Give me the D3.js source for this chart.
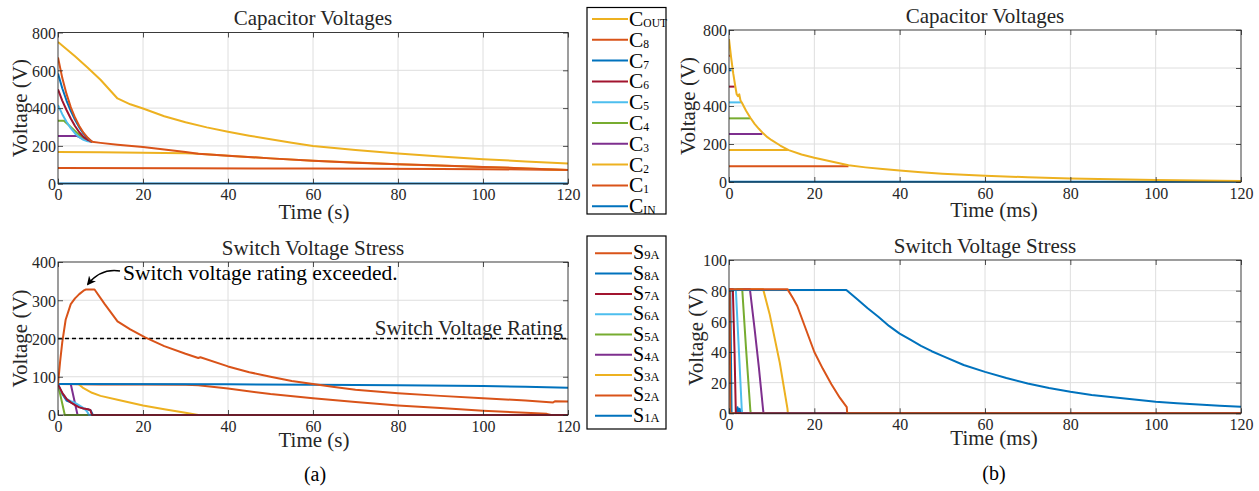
<!DOCTYPE html>
<html><head><meta charset="utf-8">
<script src="https://cdn.jsdelivr.net/npm/d3@7"></script>
<style>
body{margin:0;background:#fff}
svg{display:block}
text{font-family:"Liberation Serif","Times New Roman",serif}
</style>
</head><body>
<svg id="chart" width="1259" height="491"></svg>
<script>
// ---------- tick labels ----------
const timeTicks = [0, 20, 40, 60, 80, 100, 120];
const capTicks = [0, 200, 400, 600, 800];
const swTicksA = [0, 100, 200, 300, 400];
const swTicksB = [0, 20, 40, 60, 80, 100];
const switchRating = 200;

// ---------- (a) Capacitor voltages, time in s ----------
const capA_CIN = [[0,1],[120,1]];
const capA_C1 = [[0,83],[30,82],[60,80],[90,78],[100,77],[110,75],[120,72]];
const capA_C2 = [[0,168],[10,166],[20,164],[30,161],[33,158],[40,148],[50,134],[60,121],[80,103],[100,89],[120,73]];
const capA_C3 = [[0,252],[4.5,252],[6,236],[7.5,225],[8,222]];
const capA_C4 = [[0,333],[1.4,333],[3,300],[5,258],[7,230],[8,222]];
const capA_C5 = [[0,416],[1,368],[2,328],[3,294],[4,266],[5,246],[6,232],[7,224],[8,222]];
const capA_C6 = [[0,499],[1,440],[2,390],[3,345],[4,305],[5,272],[6,248],[7,232],[8,222]];
const capA_C7 = [[0,583],[1,505],[2,440],[3,385],[4,338],[5,298],[6,265],[7,240],[8,222]];
const capA_C8 = [[0,668],[1,560],[2,475],[3,405],[4,350],[5,305],[6,270],[7,243],[8,222],[10,216],[14,206],[20,194],[25,181],[30,168],[33,158],[40,148],[50,134],[60,121],[70,111],[80,103],[90,96],[100,89],[110,81],[115,76],[120,73]];
const capA_COUT = [[0,750],[4,674],[7,614],[10,550],[14,451],[17,420],[20,398],[25,357],[30,325],[35,298],[40,275],[45,254],[50,235],[55,217],[60,200],[70,178],[80,160],[90,144],[100,130],[110,118],[120,107]];

// ---------- (a) Switch voltage stress, time in s ----------
const swA_S1 = [[0,80],[1,55],[2,38],[3,33],[4,28],[5,22],[6,17],[7,15],[7.7,12],[8.2,0],[120,0]];
const swA_S2 = [[0,81],[10,80],[20,80],[30,79],[33,78],[40,69],[50,55],[60,44],[70,34],[80,25],[90,18],[100,11],[110,6],[115,3],[116,0],[120,0]];
const swA_S3 = [[0,81],[4.8,81],[6,70],[8,58],[10,50],[14,40],[20,25],[25,15],[30,6],[33,0],[120,0]];
const swA_S4 = [[0,81],[3,81],[4.6,0],[120,0]];
const swA_S5 = [[0,80],[1.6,0],[120,0]];
const swA_S6 = [[0,80],[1,57],[2,42],[3,36],[4,32],[5,25],[6,18],[6.8,10],[7.3,0],[120,0]];
const swA_S7 = [[0,80],[1,58],[2,42],[3,33],[4,26],[5,20],[6,17],[7,15],[7.6,13],[8,0],[120,0]];
const swA_S8 = [[0,81],[40,80.5],[60,79],[80,77.5],[100,75.5],[110,74],[120,71]];
const swA_S9 = [[0,80],[0.5,140],[1,190],[1.8,249],[3,290],[4,305],[5,316],[6,325],[6.5,328],[8.6,328],[11,290],[14,245],[17,224],[20.5,203],[25,180],[30,160],[33,149],[33.5,151],[40,127],[45,112],[50,100],[55,89],[60,81],[65,73],[70,66],[80,57],[90,50],[100,44],[110,38],[116.5,33],[117,36],[120,35]];

// ---------- (b) Capacitor voltages, time in ms ----------
const capB_CIN = [[0,1],[120,1]];
const capB_C1 = [[0,83],[28,83]];
const capB_C2 = [[0,168],[13.8,168]];
const capB_C3 = [[0,252],[7.8,252]];
const capB_C4 = [[0,335],[5,335]];
const capB_C5 = [[0,419],[3,419]];
const capB_C6 = [[0,502],[1.3,502]];
const capB_C7 = [[0,588],[0.6,588]];
const capB_C8 = [[0,665],[0.3,665]];
const capB_COUT = [[0,752],[0.5,655],[1,570],[1.5,500],[1.8,462],[2.1,452],[2.4,462],[2.7,428],[3,418],[4,375],[5,338],[6,306],[7,280],[8,256],[9,236],[10,220],[12,192],[14,168],[17,145],[20,128],[24,108],[28,88],[32,77],[36,68],[40,60],[45,51],[50,44],[55,38],[60,33],[70,25],[80,19],[90,15],[100,11],[110,8],[120,5]];

// ---------- (b) Switch voltage stress, time in ms ----------
const swB_S1 = [[0,81],[0.3,81],[0.6,0],[1.7,0],[2,4],[2.3,0],[2.5,3],[2.8,0],[120,0]];
const swB_S2 = [[0,81],[0.15,81],[0.3,0],[120,0]];
const swB_S3 = [[0,81],[8,81],[9.5,65],[11.9,33],[13.7,3],[13.8,0],[120,0]];
const swB_S4 = [[0,81],[4.9,81],[6,55],[7,30],[8,2],[8.1,0],[120,0]];
const swB_S5 = [[0,81],[3.1,81],[4,42],[5,2],[5.1,0],[120,0]];
const swB_S6 = [[0,81],[1.6,81],[2.3,42],[3,2],[3.1,0],[120,0]];
const swB_S7 = [[0,81],[0.9,81],[1.3,40],[1.6,0],[120,0]];
const swB_S8 = [[0,80.5],[27.5,80.5],[30,74.5],[32.5,68.5],[35,63],[37.5,57],[40,52],[42.5,48],[45,44],[47.5,40.5],[50,37.5],[55,31.5],[60,27],[65,23],[70,19.5],[75,16.5],[80,14],[85,12],[90,10.5],[95,9],[100,7.6],[105,6.6],[110,5.7],[115,5],[120,4.3]];
const swB_S9 = [[0,81],[13.7,81],[15,75],[16,70],[18,55],[20,40],[22,29],[24,19],[26,10],[27.6,4],[27.7,0],[120,0]];

// ---------- legend labels ----------
const capLegendMain = ["C","C","C","C","C","C","C","C","C","C"];
const capLegendSub = ["OUT","8","7","6","5","4","3","2","1","IN"];
const swLegendMain = ["S","S","S","S","S","S","S","S","S"];
const swLegendSub = ["9A","8A","7A","6A","5A","4A","3A","2A","1A"];

// ---------- styles ----------
const C_BLUE="#0072BD", C_ORANGE="#D95319", C_YELLOW="#EDB120", C_PURPLE="#7E2F8E",
      C_GREEN="#77AC30", C_CYAN="#4DBEEE", C_DRED="#A2142F";
const capColors = [C_BLUE,C_ORANGE,C_YELLOW,C_PURPLE,C_GREEN,C_CYAN,C_DRED,C_BLUE,C_ORANGE,C_YELLOW]; // CIN..COUT
const swColors = [C_BLUE,C_ORANGE,C_YELLOW,C_PURPLE,C_GREEN,C_CYAN,C_DRED,C_BLUE,C_ORANGE]; // S1A..S9A
const AX="#262626", GRID="#dedede";

const svg = d3.select("#chart");
const defs = svg.append("defs");
let clipId = 0;

function panel(p){
  const x = d3.scaleLinear().domain([0,120]).range([p.l,p.r]);
  const y = d3.scaleLinear().domain([0,p.ymax]).range([p.b,p.t]);
  const g = svg.append("g");
  // grid
  g.selectAll(null).data(timeTicks.slice(1,-1)).enter().append("line")
    .attr("x1",d=>x(d)).attr("x2",d=>x(d)).attr("y1",p.t).attr("y2",p.b)
    .attr("stroke",GRID).attr("stroke-width",1);
  g.selectAll(null).data(p.yt.slice(1,-1)).enter().append("line")
    .attr("y1",d=>y(d)).attr("y2",d=>y(d)).attr("x1",p.l).attr("x2",p.r)
    .attr("stroke",GRID).attr("stroke-width",1);
  // clip
  const id = "clip"+(clipId++);
  defs.append("clipPath").attr("id",id).append("rect")
    .attr("x",p.l).attr("y",p.t-1).attr("width",p.r-p.l).attr("height",p.b-p.t+2);
  const lg = g.append("g").attr("clip-path","url(#"+id+")");
  if(p.extra) p.extra(lg,x,y);
  const line = d3.line().x(d=>x(d[0])).y(d=>y(d[1]));
  p.series.forEach((s,i)=>{
    lg.append("path").attr("d",line(s)).attr("fill","none")
      .attr("stroke",p.colors[i]).attr("stroke-width",2).attr("stroke-linejoin","round");
  });
  // axes
  const fs = "16px";
  const xb = g.append("g").attr("transform",`translate(0,${p.b})`)
    .call(d3.axisBottom(x).tickValues(timeTicks).tickSize(-5).tickPadding(4));
  xb.selectAll("text").attr("y",16.8).attr("dy",0).attr("font-size",fs).attr("fill",AX).attr("font-family","Liberation Serif");
  const xt = g.append("g").attr("transform",`translate(0,${p.t})`)
    .call(d3.axisTop(x).tickValues(timeTicks).tickSize(-5).tickFormat(""));
  const yl = g.append("g").attr("transform",`translate(${p.l},0)`)
    .call(d3.axisLeft(y).tickValues(p.yt).tickSize(-5).tickPadding(2));
  yl.selectAll("text").attr("font-size",fs).attr("fill",AX).attr("font-family","Liberation Serif").attr("dy","0.36em");
  const yr = g.append("g").attr("transform",`translate(${p.r},0)`)
    .call(d3.axisRight(y).tickValues(p.yt).tickSize(-5).tickFormat(""));
  [xb,xt,yl,yr].forEach(a=>{a.select(".domain").remove(); a.selectAll(".tick line").attr("stroke",AX).attr("stroke-width",0.8);});
  g.append("rect").attr("x",p.l).attr("y",p.t).attr("width",p.r-p.l).attr("height",p.b-p.t)
    .attr("fill","none").attr("stroke",AX).attr("stroke-width",0.9);
  // labels
  g.append("text").attr("x",(p.l+p.r)/2).attr("y",p.titleY).attr("text-anchor","middle")
    .attr("font-size","21px").attr("fill",AX).text(p.title);
  g.append("text").attr("x",p.xlabX).attr("y",p.xlabY).attr("text-anchor","middle")
    .attr("font-size","21px").attr("fill",AX).text(p.xlabel);
  g.append("text").attr("transform",`translate(${p.ylabX},${(p.t+p.b)/2}) rotate(-90)`)
    .attr("text-anchor","middle").attr("font-size","21px").attr("fill",AX).text("Voltage (V)");
  return {x,y,g};
}

function legend(o){
  const g = svg.append("g");
  g.append("rect").attr("x",o.x).attr("y",o.y).attr("width",o.w).attr("height",o.h)
    .attr("fill","#fff").attr("stroke","#000").attr("stroke-width",1.2);
  o.main.forEach((m,i)=>{
    const cy = o.y0 + i*o.dy;
    g.append("line").attr("x1",o.lx1).attr("x2",o.lx2).attr("y1",cy).attr("y2",cy)
      .attr("stroke",o.colors[i]).attr("stroke-width",2);
    const t = g.append("text").attr("x",o.tx).attr("y",cy+o.base).attr("font-size",o.fs).attr("fill","#000");
    t.append("tspan").text(m);
    t.append("tspan").attr("font-size",o.subfs).attr("dy",o.subdy).text(o.sub[i]);
  });
}

// (a) top
panel({l:58,r:568,t:32.5,b:183.7,ymax:800,yt:capTicks,title:"Capacitor Voltages",titleY:25,
  xlabel:"Time (s)",xlabX:314,xlabY:218.5,ylabX:27,
  series:[capA_CIN,capA_C1,capA_C2,capA_C3,capA_C4,capA_C5,capA_C6,capA_C7,capA_C8,capA_COUT],
  colors:capColors});

// (a) bottom
const pA2 = panel({l:58,r:568,t:262,b:415,ymax:400,yt:swTicksA,title:"Switch Voltage Stress",titleY:255,
  xlabel:"Time (s)",xlabX:314,xlabY:447,ylabX:27,
  series:[swA_S1,swA_S2,swA_S3,swA_S4,swA_S5,swA_S6,swA_S7,swA_S8,swA_S9],
  colors:swColors,
  extra:(lg,x,y)=>{
    lg.append("line").attr("x1",x(0)).attr("x2",x(120)).attr("y1",y(switchRating)).attr("y2",y(switchRating))
      .attr("stroke","#000").attr("stroke-width",1.6).attr("stroke-dasharray","4,3");
  }});
pA2.g.append("text").attr("x",563).attr("y",335).attr("text-anchor","end").attr("font-size","21px")
  .attr("fill",AX).text("Switch Voltage Rating");
pA2.g.append("text").attr("x",123).attr("y",280).attr("font-size","21.5px")
  .attr("fill","#000").text("Switch voltage rating exceeded.");
defs.append("marker").attr("id","arrowhead").attr("viewBox","0 0 10 10").attr("refX",8).attr("refY",5)
  .attr("markerWidth",9).attr("markerHeight",9).attr("markerUnits","userSpaceOnUse").attr("orient","auto")
  .append("path").attr("d","M0,0 L10,5 L0,10 L3,5 Z").attr("fill","#000");
pA2.g.append("path").attr("d","M120,271 Q101,268 88,284").attr("fill","none").attr("stroke","#000")
  .attr("stroke-width",1.6).attr("marker-end","url(#arrowhead)");

// (b) top
panel({l:729,r:1241,t:30,b:182,ymax:800,yt:capTicks,title:"Capacitor Voltages",titleY:23,
  xlabel:"Time (ms)",xlabX:994,xlabY:217,ylabX:695,
  series:[capB_CIN,capB_C1,capB_C2,capB_C3,capB_C4,capB_C5,capB_C6,capB_C7,capB_C8,capB_COUT],
  colors:capColors});

// (b) bottom
panel({l:729,r:1241,t:260,b:413.3,ymax:100,yt:swTicksB,title:"Switch Voltage Stress",titleY:253,
  xlabel:"Time (ms)",xlabX:994,xlabY:444.5,ylabX:703,
  series:[swB_S1,swB_S2,swB_S3,swB_S4,swB_S5,swB_S6,swB_S7,swB_S8,swB_S9],
  colors:swColors});

// legends
legend({x:587,y:7.5,w:79,h:206.5,y0:19,dy:20.8,lx1:592,lx2:628,tx:629,base:7,fs:"21.5px",subfs:"11.5px",subdy:1,
  main:capLegendMain,sub:capLegendSub,colors:capColors.slice().reverse()});
legend({x:587,y:236,w:79,h:193,y0:253.3,dy:20.3,lx1:595,lx2:632,tx:633,base:6,fs:"20px",subfs:"12.5px",subdy:0,
  main:swLegendMain,sub:swLegendSub,colors:swColors.slice().reverse()});

// panel labels
svg.append("text").attr("x",315).attr("y",481).attr("text-anchor","middle").attr("font-size","20px").attr("fill","#000").text("(a)");
svg.append("text").attr("x",994).attr("y",480).attr("text-anchor","middle").attr("font-size","20px").attr("fill","#000").text("(b)");
</script>
</body></html>
